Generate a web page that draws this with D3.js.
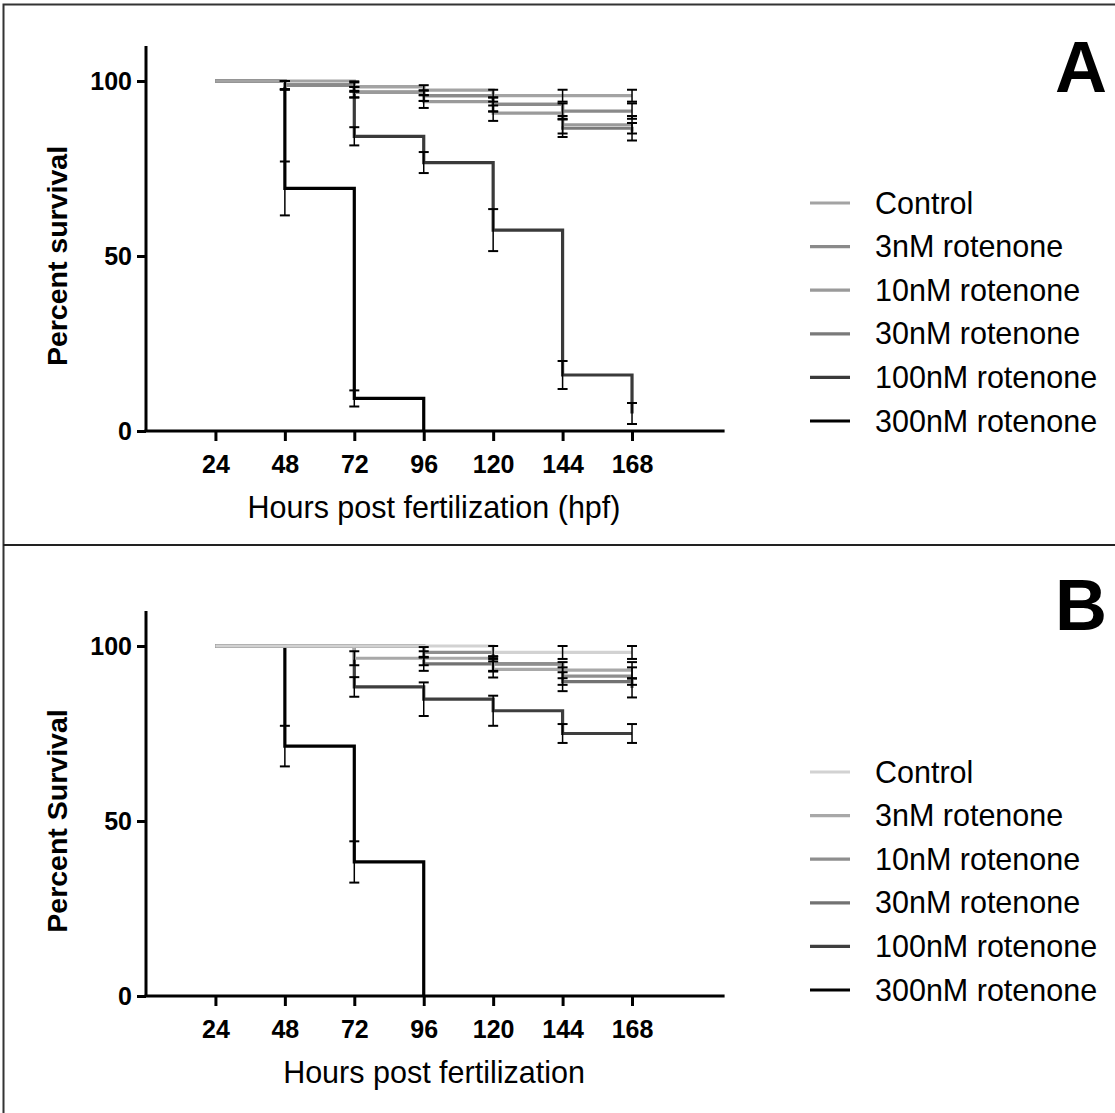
<!DOCTYPE html>
<html><head><meta charset="utf-8">
<script src="https://cdn.jsdelivr.net/npm/d3@7"></script>
<style>body{margin:0;background:#fff}svg{display:block}text{font-family:"Liberation Sans",Arial,sans-serif}</style>
</head><body>
<svg id="c" width="1115" height="1113"></svg>
<script>
const seriesNames = ["Control","3nM rotenone","10nM rotenone","30nM rotenone","100nM rotenone","300nM rotenone"];
const times = [24,48,72,96,120,144,168];
const times300 = [24,48,72,96];
const xTicks = [24,48,72,96,120,144,168];
const yTicks = [0,50,100];

// Panel A
const A_control = [100,100,98.4,97.4,95.8,95.8,95.8];
const A_3nM     = [100,98.8,98.4,95.8,93.3,91.4,91.4];
const A_10nM    = [100,98.8,96.8,94.1,90.8,87.5,87.5];
const A_30nM    = [100,98.8,96.8,95.8,93.3,86.5,85.5];
const A_100nM   = [100,98.8,84.2,76.7,57.4,16,5];
const A_300nM   = [100,69.3,9.3,0];
const A_err_control = [0,0,1.2,1.4,1.7,1.7,1.7];
const A_err_3nM     = [0,1.2,1.5,1.5,2,2.2,2.2];
const A_err_10nM    = [0,1.2,1.5,1.8,2.2,2.5,2.5];
const A_err_30nM    = [0,1.2,1.5,1.5,2,2.5,2.5];
const A_err_100nM   = [0,1.2,2.6,3,6,4,3];
const A_err_300nM   = [0,7.7,2.3,0];
const A_colors = ["#a3a3a3","#8a8a8a","#9a9a9a","#7a7a7a","#3a3a3a","#000000"];

// Panel B
const B_control = [100,100,100,100,98.2,98.2,98.2];
const B_3nM     = [100,100,96.5,96.5,93.3,93.1,93.1];
const B_10nM    = [100,100,100,98.2,94.9,91.4,91.4];
const B_30nM    = [100,100,100,94.9,94.9,89.8,88];
const B_100nM   = [100,100,88.3,84.8,81.5,75,75];
const B_300nM   = [100,71.4,38.3,0];
const B_err_control = [0,0,0,0,1.9,1.9,1.9];
const B_err_3nM     = [0,0,2,2,2.3,2.3,2.3];
const B_err_10nM    = [0,0,0,1.5,2.2,2.5,2.5];
const B_err_30nM    = [0,0,0,2,2,2.7,2.7];
const B_err_100nM   = [0,0,2.8,4.8,4.3,2.7,2.7];
const B_err_300nM   = [0,5.8,5.9,0];
const B_colors = ["#d2d2d2","#a8a8a8","#8e8e8e","#727272","#3e3e3e","#000000"];

const svg = d3.select("#c");
// frame
svg.append("path").attr("d","M3.5,1113 V4.5 H1115").attr("fill","none").attr("stroke","#333").attr("stroke-width",2);
svg.append("line").attr("x1",3).attr("x2",1115).attr("y1",545).attr("y2",545).attr("stroke","#222").attr("stroke-width",2);

function panel(cfg){
  const x = d3.scaleLinear().domain([0,200]).range([146,724.6]);
  const y = d3.scaleLinear().domain([0,110]).range([cfg.y0, cfg.y0-385]);
  const g = svg.append("g");
  // axes
  const ya = g.append("g").attr("transform",`translate(${x(0)},0)`)
    .call(d3.axisLeft(y).tickValues(yTicks).tickSize(9).tickPadding(5).tickFormat(d3.format("d")));
  const xa = g.append("g").attr("transform",`translate(0,${y(0)})`)
    .call(d3.axisBottom(x).tickValues(xTicks).tickSize(10).tickPadding(14).tickFormat(d3.format("d")));
  [ya,xa].forEach(a=>{
    a.select(".domain").attr("stroke","#000").attr("stroke-width",3);
    a.selectAll(".tick line").attr("stroke","#000").attr("stroke-width",3);
    a.selectAll(".tick text").attr("fill","#000").attr("font-size",25).attr("font-weight","bold")
      .style("font-family",'"Liberation Sans",Arial,sans-serif');
  });
  ya.select(".domain").attr("d",`M0,${y(110)}V${y(0)}`);
  xa.select(".domain").attr("d",`M${x(0)-1.5},0H${x(200)}`);

  const line = d3.line().x(d=>x(d[0])).y(d=>y(d[1])).curve(d3.curveStepAfter);
  for(let i=cfg.series.length-1;i>=0;i--){
    const vals = cfg.series[i];
    const ts = vals.length===4 ? times300 : times;
    g.append("path").datum(ts.map((t,k)=>[t,vals[k]]))
      .attr("d",line).attr("fill","none").attr("stroke",cfg.colors[i]).attr("stroke-width",3.2);
  }
  cfg.series.forEach((vals,i)=>{
    const ts = vals.length===4 ? times300 : times;
    const errs = cfg.errs[i];
    ts.forEach((t,k)=>{
      const e = errs[k];
      if(!e) return;
      const cx = x(t), lo = y(Math.max(0,vals[k]-e)), hi = y(Math.min(100,vals[k]+e));
      g.append("line").attr("x1",cx).attr("x2",cx).attr("y1",lo).attr("y2",hi).attr("stroke","#000").attr("stroke-width",1.5);
      [lo,hi].forEach(yy=>g.append("line").attr("x1",cx-5).attr("x2",cx+5).attr("y1",yy).attr("y2",yy).attr("stroke","#000").attr("stroke-width",2));
    });
  });
  g.append("text").attr("x",434).attr("y",y(0)+87).attr("text-anchor","middle").attr("font-size",30.5).text(cfg.xTitle);
  g.append("text").attr("transform",`translate(67,${y(50)}) rotate(-90)`).attr("text-anchor","middle")
    .attr("font-size",28.5).attr("font-weight","bold").text(cfg.yTitle);
  g.append("text").attr("x",1107).attr("y",cfg.letterY).attr("text-anchor","end").attr("font-size",72).attr("font-weight","bold").text(cfg.letter);
  seriesNames.forEach((n,i)=>{
    const ly = cfg.legY + i*43.6;
    g.append("line").attr("x1",810).attr("x2",850).attr("y1",ly).attr("y2",ly).attr("stroke",cfg.colors[i]).attr("stroke-width",3.2);
    g.append("text").attr("x",875).attr("y",ly+10.5).attr("font-size",30.5).text(n);
  });
}

panel({y0:431, series:[A_control,A_3nM,A_10nM,A_30nM,A_100nM,A_300nM],
  errs:[A_err_control,A_err_3nM,A_err_10nM,A_err_30nM,A_err_100nM,A_err_300nM],
  colors:A_colors, xTitle:"Hours post fertilization (hpf)", yTitle:"Percent survival", letter:"A", letterY:92, legY:203});
panel({y0:996, series:[B_control,B_3nM,B_10nM,B_30nM,B_100nM,B_300nM],
  errs:[B_err_control,B_err_3nM,B_err_10nM,B_err_30nM,B_err_100nM,B_err_300nM],
  colors:B_colors, xTitle:"Hours post fertilization", yTitle:"Percent Survival", letter:"B", letterY:630, legY:772});
</script>
</body></html>
